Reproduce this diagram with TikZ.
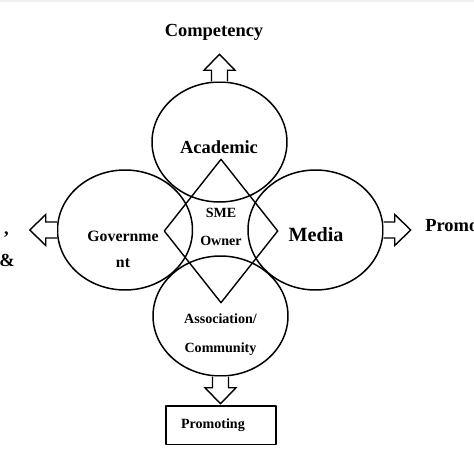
\documentclass[tikz,border=0pt]{standalone}
\usepackage{fontspec}
\setmainfont{Liberation Serif}
\usetikzlibrary{shapes.geometric}

% hollow block arrow leaving a node anchor, #2 = direction in degrees
\newcommand{\fatarrow}[2]{%
  \begin{scope}[shift={(#1)},rotate=#2]
    \draw[line width=.8pt,fill=white,line join=miter]
      (0,-8) -- (11,-8) -- (11,-15.5) -- (27,0) -- (11,15.5) -- (11,8) -- (0,8);
  \end{scope}}

\begin{document}
\begin{tikzpicture}[x=.02cm,y=.02cm,line join=round,
  circ/.style={draw,ellipse,line width=.85pt,minimum width=2.7cm,minimum height=2.4cm,inner sep=0pt},
  lbl/.style={inner sep=0pt,align=center,font=\bfseries\fontsize{8}{16}\selectfont},
  big/.style={inner sep=0pt,font=\bfseries\fontsize{10.5}{12}\selectfont}]
  \useasboundingbox (0,0) rectangle (474,474);
  \clip (0,0) rectangle (474,474);
  \fill[gray!12] (0,472) rectangle (474,474);

  % the four actors round the owner
  \node[circ] (acad) at (219.5,332) {};
  \node[circ] (gov) at (125,244) {};
  \node[circ] (media) at (315.5,244) {};
  \node[circ] (assoc) at (220.5,158) {};
  \node[draw,diamond,line width=.8pt,minimum width=2.28cm,minimum height=2.88cm,inner sep=0pt] (sme) at (221,243) {};

  \node[big] (acadtxt) at (219,327) {Academic};
  \node[big,font=\bfseries\fontsize{11.5}{14}\selectfont] (mediatxt) at (316,239) {Media};
  \node[lbl,font=\bfseries\fontsize{9}{14.7}\selectfont] (govtxt) at (123,225) {Governme\\nt};
  \node[lbl] (smetxt) at (221,247) {SME\\Owner};
  \node[lbl,font=\bfseries\fontsize{8}{16.4}\selectfont] (assoctxt) at (220.5,139.5) {Association/\\Community};

  % outputs
  \fatarrow{acad.north}{90}
  \fatarrow{gov.west}{180}
  \fatarrow{media.east}{0}
  \fatarrow{assoc.south}{-90}

  \node[big] (comp) at (214,442) {Competency};
  \node[big,anchor=west] (promo) at (425,248) {Promo};
  \node[big,anchor=base east] (comma) at (9,239) {,};
  \node[big,anchor=base east] (amp) at (15,207) {\&};
  \node[draw,line width=.8pt,minimum height=.774cm,text width=1.6cm,inner xsep=.3cm,
    align=left,font=\bfseries\fontsize{8}{9}\selectfont] (promobox) at (221,48.7) {Promoting};
\end{tikzpicture}
\end{document}
